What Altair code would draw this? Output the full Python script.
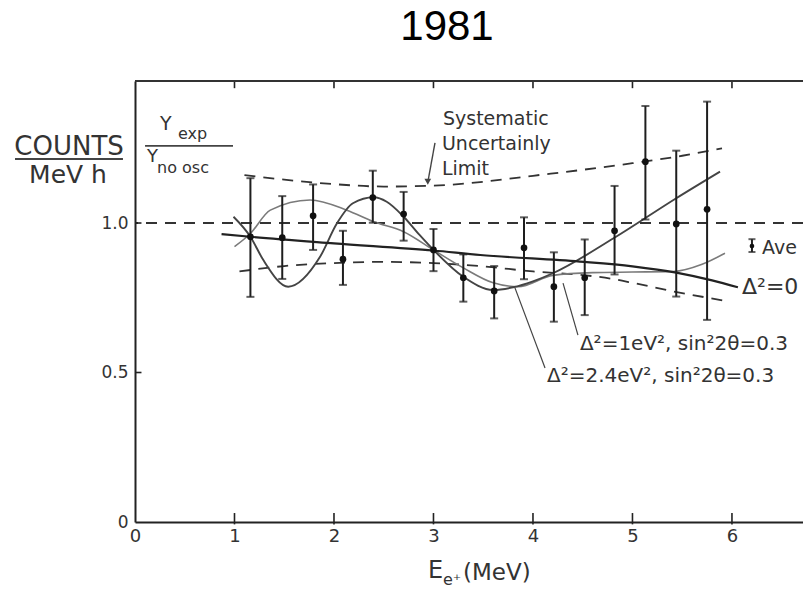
import altair as alt
import pandas as pd

# ---------------- data ----------------
energy = [1.16, 1.48, 1.79, 2.09, 2.39, 2.70, 3.00, 3.30, 3.61, 3.91, 4.21, 4.52, 4.82, 5.13, 5.44, 5.75]
ratio = [0.954, 0.951, 1.024, 0.879, 1.085, 1.030, 0.910, 0.817, 0.773, 0.917, 0.787, 0.817, 0.974, 1.205, 0.997, 1.046]
ratio_hi = [1.150, 1.090, 1.129, 0.974, 1.175, 1.104, 0.980, 0.895, 0.856, 1.019, 0.902, 0.945, 1.124, 1.391, 1.242, 1.406]
ratio_lo = [0.753, 0.813, 0.910, 0.793, 1.001, 0.941, 0.839, 0.737, 0.681, 0.812, 0.670, 0.692, 0.828, 1.012, 0.754, 0.676]

sys_up_e = [1.10, 1.5, 2.0, 2.5, 3.0, 3.5, 4.0, 4.5, 5.0, 5.5, 5.90]
sys_up_r = [1.160, 1.145, 1.130, 1.122, 1.125, 1.138, 1.158, 1.178, 1.200, 1.225, 1.250]
sys_lo_e = [1.05, 1.5, 2.0, 2.5, 3.0, 3.5, 4.0, 4.5, 4.8, 5.0, 5.4, 5.93]
sys_lo_r = [0.838, 0.856, 0.866, 0.870, 0.866, 0.855, 0.838, 0.826, 0.813, 0.800, 0.772, 0.740]

d0_e = [0.87, 1.16, 2.0, 3.0, 3.47, 4.47, 5.0, 5.44, 5.8, 6.06]
d0_r = [0.963, 0.954, 0.932, 0.908, 0.893, 0.871, 0.855, 0.834, 0.808, 0.785]

d1_e = [1.0, 1.16, 1.36, 1.76, 2.13, 2.40, 2.70, 3.0, 3.3, 3.6, 3.85, 4.2, 4.6, 5.0, 5.41, 5.7, 5.93]
d1_r = [0.921, 0.965, 1.043, 1.077, 1.043, 1.004, 0.971, 0.91, 0.85, 0.80, 0.787, 0.825, 0.834, 0.836, 0.838, 0.862, 0.899]

d24_e = [0.99, 1.16, 1.29, 1.54, 1.86, 2.03, 2.19, 2.40, 2.53, 2.70, 2.86, 3.0, 3.3, 3.6, 3.8, 4.0, 4.2, 4.81, 5.44, 5.88]
d24_r = [1.021, 0.954, 0.876, 0.787, 0.887, 0.999, 1.066, 1.086, 1.071, 1.021, 0.960, 0.91, 0.82, 0.776, 0.785, 0.805, 0.832, 0.949, 1.083, 1.172]

x_ticks = [0, 1, 2, 3, 4, 5, 6]
y_ticks = [0, 0.5, 1.0]
reference_level = [1.0]

X_DOMAIN = [0, 6.714]
Y_DOMAIN = [0, 1.475]

# ---------------- helpers ----------------
xs = alt.Scale(domain=X_DOMAIN, nice=False, zero=False)
ys = alt.Scale(domain=Y_DOMAIN, nice=False, zero=False)

LETTER = "DejaVu Sans"

x_axis = alt.Axis(values=x_ticks, format="d", ticks=False, grid=False, title=None,
                  labelFontSize=18, labelFont=LETTER, labelColor="#333",
                  labelPadding=5, domainColor="#222", domainWidth=2, labelFlush=False)
y_axis = alt.Axis(values=y_ticks, ticks=False, grid=False, title=None,
                  labelExpr="datum.value == 0 ? '0' : format(datum.value, '.1f')",
                  labelFontSize=17, labelFont=LETTER, labelColor="#333",
                  labelPadding=7, domainColor="#222", domainWidth=2, labelFlush=False)


def X(field):
    return alt.X(field, type="quantitative", scale=xs, axis=x_axis)


def Y(field):
    return alt.Y(field, type="quantitative", scale=ys, axis=y_axis)


def curve(e, r):
    return pd.DataFrame({"e": e, "r": r})


points_df = pd.DataFrame({"e": energy, "r": ratio, "hi": ratio_hi, "lo": ratio_lo})

# ---------------- frame, ticks ----------------
tick_df = pd.DataFrame({"e": x_ticks[1:]})
bottom_ticks = alt.Chart(tick_df).mark_rule(color="#222", strokeWidth=1.6).encode(
    x=X("e"), y=alt.datum(-0.008), y2=alt.datum(0.03))
top_ticks = alt.Chart(tick_df).mark_rule(color="#222", strokeWidth=1.6).encode(
    x=X("e"), y=alt.datum(Y_DOMAIN[1]), y2=alt.datum(Y_DOMAIN[1] - 0.024))
top_border = alt.Chart(pd.DataFrame({"a": [0]})).mark_rule(color="#333", strokeWidth=2).encode(
    x=alt.datum(X_DOMAIN[0]), x2=alt.datum(X_DOMAIN[1]), y=alt.datum(Y_DOMAIN[1]))
ytick_df = pd.DataFrame({"r": y_ticks[1:]})
left_ticks = alt.Chart(ytick_df).mark_rule(color="#222", strokeWidth=1.6).encode(
    y=Y("r"), x=alt.datum(0), x2=alt.datum(0.065))

unity = alt.Chart(pd.DataFrame({"r": reference_level})).mark_rule(
    color="#333", strokeWidth=1.8, strokeDash=[11, 8]).encode(y=Y("r"))

# ---------------- curves ----------------
sys_up = alt.Chart(curve(sys_up_e, sys_up_r)).mark_line(
    color="#333", strokeWidth=1.8, strokeDash=[11, 8], interpolate="monotone").encode(x=X("e"), y=Y("r"))
sys_lo = alt.Chart(curve(sys_lo_e, sys_lo_r)).mark_line(
    color="#333", strokeWidth=1.8, strokeDash=[11, 8], interpolate="monotone").encode(x=X("e"), y=Y("r"))
line_d0 = alt.Chart(curve(d0_e, d0_r)).mark_line(
    color="#222", strokeWidth=2.2, interpolate="monotone").encode(x=X("e"), y=Y("r"))
line_d1 = alt.Chart(curve(d1_e, d1_r)).mark_line(
    color="#7a7a7a", strokeWidth=1.6, interpolate="monotone").encode(x=X("e"), y=Y("r"))
line_d24 = alt.Chart(curve(d24_e, d24_r)).mark_line(
    color="#444", strokeWidth=1.9, interpolate="monotone").encode(x=X("e"), y=Y("r"))

# ---------------- data points ----------------
errbars = alt.Chart(points_df).mark_errorbar(ticks=True, size=8, thickness=2, color="#1e1e1e").encode(
    x=X("e"), y=Y("lo"), y2="hi")
dots = alt.Chart(points_df).mark_point(filled=True, size=45, color="#111", opacity=1).encode(
    x=X("e"), y=Y("r"))

# ---------------- annotations ----------------
ave_df = pd.DataFrame({"e": [6.201], "r": [0.923], "lo": [0.903], "hi": [0.946]})
ave_bar = alt.Chart(ave_df).mark_errorbar(ticks=True, size=7, thickness=2, color="#222").encode(
    x=X("e"), y=Y("lo"), y2="hi")
ave_dot = alt.Chart(ave_df).mark_point(filled=True, size=22, color="#111", opacity=1).encode(
    x=X("e"), y=Y("r"))

rules_df = pd.DataFrame({
    "x1": [-1.206, 0.101, 4.452, 4.121, 3.015],
    "x2": [-0.121, 0.985, 4.302, 3.819, 2.945],
    "y1": [1.214, 1.258, 0.625, 0.515, 1.268],
    "y2": [1.214, 1.258, 0.799, 0.783, 1.140],
    "w": [2.0, 1.6, 1.2, 1.2, 1.4],
})
rules = alt.Chart(rules_df).mark_rule(color="#444").encode(
    x=X("x1"), x2="x2", y=Y("y1"), y2="y2",
    strokeWidth=alt.StrokeWidth("w:Q", scale=None))
arrow_head = alt.Chart(pd.DataFrame({"e": [2.943], "r": [1.138]})).mark_point(
    shape="triangle-down", filled=True, size=45, color="#444", opacity=1).encode(x=X("e"), y=Y("r"))

left_text_df = pd.DataFrame([
    {"t": "Y", "e": 0.251, "r": 1.311, "fs": 19},
    {"t": "exp", "e": 0.432, "r": 1.281, "fs": 16},
    {"t": "Y", "e": 0.121, "r": 1.204, "fs": 18},
    {"t": "no osc", "e": 0.221, "r": 1.167, "fs": 16},
    {"t": "Systematic", "e": 3.095, "r": 1.328, "fs": 19},
    {"t": "Uncertainly", "e": 3.085, "r": 1.244, "fs": 19},
    {"t": "Limit", "e": 3.085, "r": 1.161, "fs": 19},
    {"t": "Ave", "e": 6.302, "r": 0.896, "fs": 19},
    {"t": "Δ²=0", "e": 6.101, "r": 0.763, "fs": 22},
    {"t": "Δ²=1eV²,  sin²2θ=0.3", "e": 4.472, "r": 0.575, "fs": 20},
    {"t": "Δ²=2.4eV²,  sin²2θ=0.3", "e": 4.141, "r": 0.469, "fs": 20},
    {"t": "E", "e": 2.945, "r": -0.187, "fs": 24},
    {"t": "e⁺", "e": 3.095, "r": -0.212, "fs": 16},
    {"t": "(MeV)", "e": 3.296, "r": -0.194, "fs": 23},
])
left_text = alt.Chart(left_text_df).mark_text(
    align="left", baseline="alphabetic", font=LETTER, color="#333").encode(
    x=X("e"), y=Y("r"), text="t:N", size=alt.Size("fs:Q", scale=None))

center_text_df = pd.DataFrame([
    {"t": "COUNTS", "e": -0.663, "r": 1.227, "fs": 26},
    {"t": "MeV  h", "e": -0.673, "r": 1.134, "fs": 25},
])
center_text = alt.Chart(center_text_df).mark_text(
    align="center", baseline="alphabetic", font=LETTER, color="#333").encode(
    x=X("e"), y=Y("r"), text="t:N", size=alt.Size("fs:Q", scale=None))

title_df = pd.DataFrame([{"t": "1981", "e": 3.136, "r": 1.612}])
title_text = alt.Chart(title_df).mark_text(
    align="center", baseline="alphabetic", font="Liberation Sans", fontSize=42, color="#000").encode(
    x=X("e"), y=Y("r"), text="t:N")

chart = alt.layer(
    unity, sys_up, sys_lo, line_d1, line_d24, line_d0,
    errbars, dots, bottom_ticks, top_ticks, top_border, left_ticks,
    ave_bar, ave_dot, rules, arrow_head, left_text, center_text, title_text,
).properties(
    width=668, height=441,
    padding={"left": 135, "top": 81, "right": 0, "bottom": 70},
    autosize=alt.AutoSizeParams(type="none"),
    background="white",
).configure_view(stroke=None)

chart.save("out.html", embed_options={"renderer": "svg", "actions": False})
